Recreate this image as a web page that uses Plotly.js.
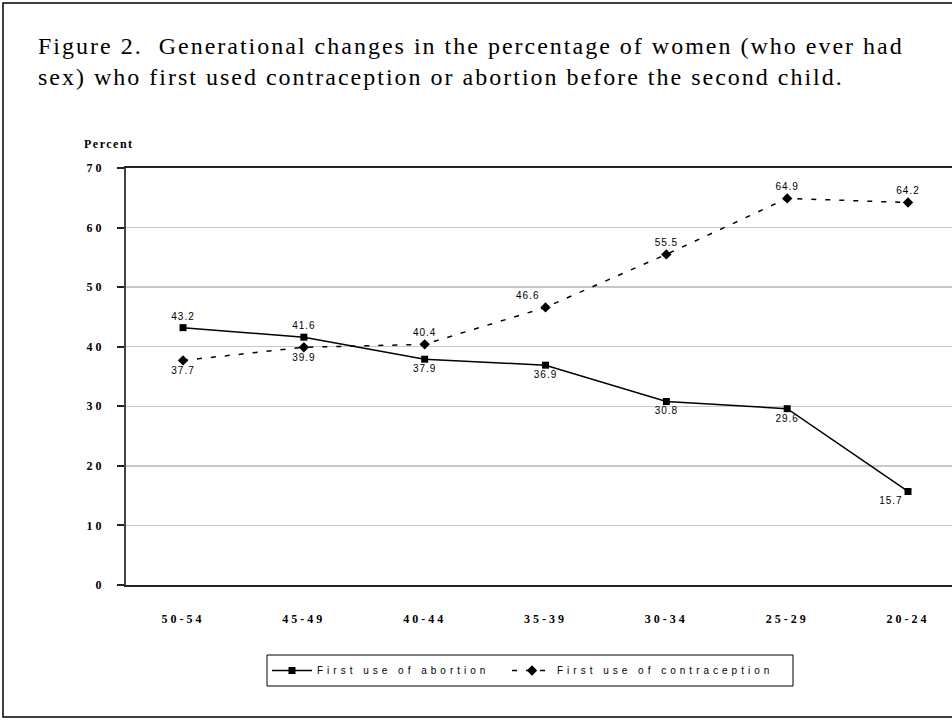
<!DOCTYPE html>
<html>
<head>
<meta charset="utf-8">
<script src="https://cdn.plot.ly/plotly-3.0.1.min.js"></script>
<style>
html,body{margin:0;padding:0;background:#fff;}
#chart{width:952px;height:721px;}
.gtitle{letter-spacing:2px;}
.xtick text, .ytick text{letter-spacing:3px;}
.legendtext, .legend2text, .infolayer [class*="legend"] text{letter-spacing:4px;}
.textpoint text{letter-spacing:1px;}
.annotation-text{letter-spacing:1.5px;}
</style>
</head>
<body>
<div id="chart"></div>
<script>
const cohorts = ["50-54", "45-49", "40-44", "35-39", "30-34", "25-29", "20-24"];
const abortion = [43.2, 41.6, 37.9, 36.9, 30.8, 29.6, 15.7];
const contraception = [37.7, 39.9, 40.4, 46.6, 55.5, 64.9, 64.2];
const abortionLabelPos = ["top center", "top center", "bottom center", "bottom center", "bottom center", "bottom center", "bottom left"];
const contraLabelPos = ["bottom center", "bottom center", "top center", "top left", "top center", "top center", "top center"];
const yTicks = [0, 10, 20, 30, 40, 50, 60, 70];

const labelFont = {family: "Liberation Sans, Arial, sans-serif", size: 10, color: "#000"};

const traces = [
  {
    type: "scatter", mode: "lines+markers+text", name: "First use of abortion", legend: "legend",
    x: cohorts, y: abortion,
    text: abortion.map(v => v.toFixed(1)), textposition: abortionLabelPos, textfont: labelFont,
    line: {color: "#000", width: 1.5},
    marker: {symbol: "square", size: 7, color: "#000"},
    cliponaxis: false
  },
  {
    type: "scatter", mode: "lines+markers+text", name: "First use of contraception", legend: "legend2",
    x: cohorts, y: contraception,
    text: contraception.map(v => v.toFixed(1)), textposition: contraLabelPos, textfont: labelFont,
    line: {color: "#000", width: 1.5, dash: "5px,9px"},
    marker: {symbol: "diamond", size: 8, color: "#000"},
    cliponaxis: false
  }
];

const plotLeft = 126, plotTop = 168, plotBottom = 585, W = 952, H = 721;
const pw = W - plotLeft, ph = plotBottom - plotTop;
const px = x => (x - plotLeft) / pw;
const py = y => (plotBottom - y) / ph;

const legendFont = {family: "Liberation Sans, Arial, sans-serif", size: 10, color: "#000"};

const layout = {
  width: W, height: H,
  margin: {l: plotLeft, r: 0, t: plotTop, b: H - plotBottom, pad: 0},
  paper_bgcolor: "#fff", plot_bgcolor: "#fff",
  font: {family: "Liberation Serif, Times New Roman, serif", color: "#000"},
  title: {
    text: "Figure 2.  Generational changes in the percentage of women (who ever had<br>sex) who first used contraception or abortion before the second child.",
    xref: "container", yref: "container", x: 38 / W, xanchor: "left", y: 1 - 54 / H, yanchor: "top",
    font: {family: "Liberation Serif, Times New Roman, serif", size: 24, color: "#000"}
  },
  xaxis: {
    type: "category", range: [-0.472, 6.364], fixedrange: true,
    showline: true, linecolor: "#222", linewidth: 2, mirror: true,
    showgrid: false, ticks: "", zeroline: false,
    tickfont: {family: "Liberation Serif, Times New Roman, serif", size: 12, color: "#000", weight: "bold"},
    ticklabelstandoff: 22
  },
  yaxis: {
    range: [0, 70], tickvals: yTicks, ticktext: yTicks.map(String),
    showline: true, linecolor: "#444", linewidth: 2,
    showgrid: true, gridcolor: "#c8c8c8", gridwidth: 1.5, zeroline: false,
    ticks: "outside", ticklen: 7, tickcolor: "#222", tickwidth: 2,
    tickfont: {family: "Liberation Serif, Times New Roman, serif", size: 12, color: "#000", weight: "bold"},
    ticklabelstandoff: 10
  },
  showlegend: true,
  legend: {
    orientation: "h", x: px(267), xanchor: "left", y: py(656), yanchor: "top",
    borderwidth: 0, bgcolor: "rgba(0,0,0,0)", font: legendFont, itemwidth: 40,
    entrywidth: 200, entrywidthmode: "pixels"
  },
  legend2: {
    orientation: "h", x: px(507), xanchor: "left", y: py(656), yanchor: "top",
    borderwidth: 0, bgcolor: "rgba(0,0,0,0)", font: legendFont, itemwidth: 40,
    entrywidth: 250, entrywidthmode: "pixels"
  },
  annotations: [
    {text: "<b>Percent</b>", xref: "paper", yref: "paper", x: px(82), y: py(144), xanchor: "left", yanchor: "middle",
     showarrow: false, font: {family: "Liberation Serif, Times New Roman, serif", size: 12, color: "#000"}}
  ],
  shapes: [
    {type: "rect", xref: "paper", yref: "paper", x0: px(3), x1: px(W + 10), y0: py(717), y1: py(3),
     line: {color: "#000", width: 1.5}, fillcolor: "rgba(0,0,0,0)", layer: "below"},
    {type: "rect", xref: "paper", yref: "paper", x0: px(267), x1: px(793), y0: py(686), y1: py(655),
     line: {color: "#000", width: 1}, fillcolor: "rgba(0,0,0,0)", layer: "below"}
  ]
};

Plotly.newPlot("chart", traces, layout, {displayModeBar: false, staticPlot: true});
</script>
</body>
</html>
